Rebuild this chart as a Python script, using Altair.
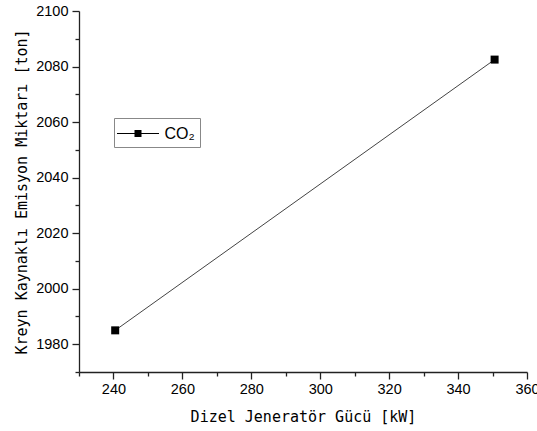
import altair as alt
import pandas as pd

power_kw = [240.5, 350.6]
co2_ton = [1985.0, 2082.5]
series = ["CO\u2082", "CO\u2082"]

x_ticks = list(range(230, 361, 10))
y_ticks = list(range(1970, 2101, 10))

df = pd.DataFrame({"power": power_kw, "co2": co2_ton, "series": series})

legend_path = "M-2.1,-0.05H2.1V0.05H-2.1Z M-0.35,-0.35H0.35V0.35H-0.35Z"

tick_font = "Liberation Sans, Arial"
title_font = "DejaVu Sans Mono"

x_enc = alt.X(
    "power:Q",
    scale=alt.Scale(domain=[230, 360], nice=False, zero=False),
    axis=alt.Axis(
        title="Dizel Jeneratör Gücü [kW]",
        values=x_ticks,
        format="d",
        labelExpr="datum.value % 20 === 0 ? datum.label : ''",
        tickSize={"condition": {"test": "datum.value % 20 === 0", "value": 7}, "value": 4},
        labelPadding=3,
        labelFlush=False,
        labelOverlap=False,
        titlePadding=14,
    ),
)
y_enc = alt.Y(
    "co2:Q",
    scale=alt.Scale(domain=[1970, 2100], nice=False, zero=False),
    axis=alt.Axis(
        title="Kreyn Kaynaklı Emisyon Miktarı [ton]",
        values=y_ticks,
        format="d",
        labelExpr="datum.value % 20 === 0 ? datum.label : ''",
        tickSize={"condition": {"test": "datum.value % 20 === 0", "value": 7}, "value": 4},
        labelPadding=4,
        labelFlush=False,
        labelOverlap=False,
        titlePadding=6,
    ),
)

base = alt.Chart(df)

line = base.mark_line(color="#444", strokeWidth=1).encode(x=x_enc, y=y_enc)
pts = base.mark_square(size=64, color="black", opacity=1).encode(x=x_enc, y=y_enc)
leg = base.mark_point(opacity=0, filled=True, color="black").encode(
    x=x_enc,
    y=y_enc,
    shape=alt.Shape(
        "series:N",
        scale=alt.Scale(range=[legend_path]),
        legend=alt.Legend(
            title=None,
            orient="none",
            legendX=35,
            legendY=107,
            padding=5,
            strokeColor="#888",
            symbolSize=400,
            symbolOffset=8.5,
            symbolOpacity=1,
            symbolFillColor="#111",
            symbolStrokeColor="#111",
            symbolStrokeWidth=0.3,
            labelOffset=16,
            labelFont=tick_font,
            labelFontSize=16,
            labelColor="black",
        ),
    ),
)

chart = (
    alt.layer(line, pts, leg)
    .properties(
        width=448,
        height=361,
        autosize=alt.AutoSizeParams(type="none"),
        padding={"left": 79, "top": 11, "right": 10, "bottom": 59},
        background="white",
    )
    .configure_view(stroke=None)
    .configure_legend(strokeWidth=1)
    .configure_axis(
        grid=False,
        domainColor="#222",
        domainWidth=1.3,
        tickColor="#222",
        tickWidth=1.3,
        labelFont=tick_font,
        labelFontSize=14.5,
        labelColor="black",
        titleFont=title_font,
        titleFontSize=15,
        titleFontWeight="normal",
        titleColor="black",
    )
)

chart.save("out.html", embed_options={"renderer": "svg", "actions": False})
